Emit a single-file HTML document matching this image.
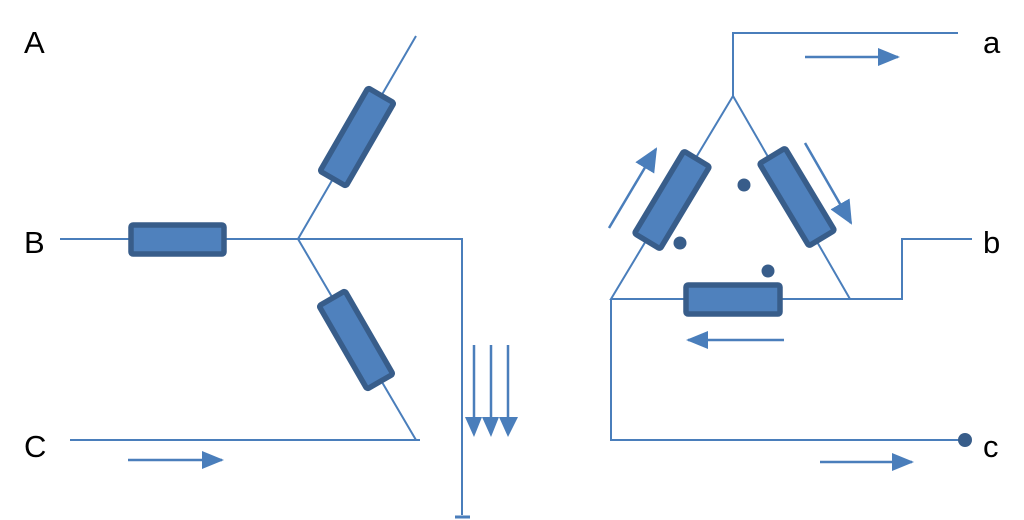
<!DOCTYPE html>
<html><head><meta charset="utf-8"><style>body{margin:0;background:#fff}svg{display:block}</style></head><body>
<svg width="1024" height="520" viewBox="0 0 1024 520" xmlns="http://www.w3.org/2000/svg">
<defs>
<marker id="ar2" markerWidth="22" markerHeight="18" refX="20" refY="9" orient="auto" markerUnits="userSpaceOnUse" viewBox="0 0 22 18"><path d="M0,0L22,9L0,18z" fill="#4a7ebb"/></marker>
<marker id="ar3" markerWidth="24" markerHeight="22" refX="22" refY="11" orient="auto" markerUnits="userSpaceOnUse" viewBox="0 0 24 22"><path d="M0,0L24,11L0,22z" fill="#4a7ebb"/></marker></defs>
<g font-family="Liberation Sans, sans-serif" font-size="31" fill="#000">
<text x="24" y="53">A</text><text x="24" y="253">B</text><text x="24" y="457">C</text>
<text x="983" y="53">a</text><text x="983" y="253">b</text><text x="983" y="457">c</text></g>
<g stroke="#4a7ebb" stroke-width="2" fill="none">
<path d="M60,239H298L416,36M298,239L416,440M298,239H462V515M70,440H420"/>
<path d="M455,517H470" stroke-width="3"/>
<path d="M733,96L611,299H850Z M733,96V33H958 M850,299H902V239H972 M611,299V440H965"/>
</g>
<g stroke="#4a7ebb" stroke-width="2.5">
<line x1="128" y1="460" x2="222" y2="460" marker-end="url(#ar2)"/>
<line x1="805" y1="57" x2="898" y2="57" marker-end="url(#ar2)"/>
<line x1="820" y1="462" x2="912" y2="462" marker-end="url(#ar2)"/>
<line x1="784" y1="340" x2="688" y2="340" marker-end="url(#ar2)"/>
<line x1="609" y1="228" x2="656" y2="149" marker-end="url(#ar3)"/>
<line x1="805" y1="143" x2="851" y2="223" marker-end="url(#ar3)"/>
<line x1="474" y1="345" x2="474" y2="420"/><line x1="491" y1="345" x2="491" y2="420"/><line x1="508" y1="345" x2="508" y2="420"/>
</g>
<path d="M465,417H518L508,437L499,417L491,437L482,417L474,437Z" fill="#4a7ebb"/>
<g fill="#4f81bd" stroke="#385d8a" stroke-width="5.5">
<rect x="131" y="225" width="93" height="29" rx="2"/>
<rect x="-48" y="-15" width="96" height="30" rx="2" transform="translate(357,137) rotate(-60)"/>
<rect x="-48" y="-15" width="96" height="30" rx="2" transform="translate(356,340) rotate(60)"/>
<rect x="686" y="285" width="94" height="29" rx="2"/>
<rect x="-48" y="-15" width="96" height="30" rx="2" transform="translate(672,200) rotate(-59)"/>
<rect x="-48" y="-15" width="96" height="30" rx="2" transform="translate(797,197) rotate(59)"/>
</g>
<g fill="#385d8a"><circle cx="744" cy="185" r="6.5"/><circle cx="680" cy="243" r="6.5"/><circle cx="768" cy="271" r="6.5"/><circle cx="965" cy="440" r="7"/></g>
</svg></body></html>
